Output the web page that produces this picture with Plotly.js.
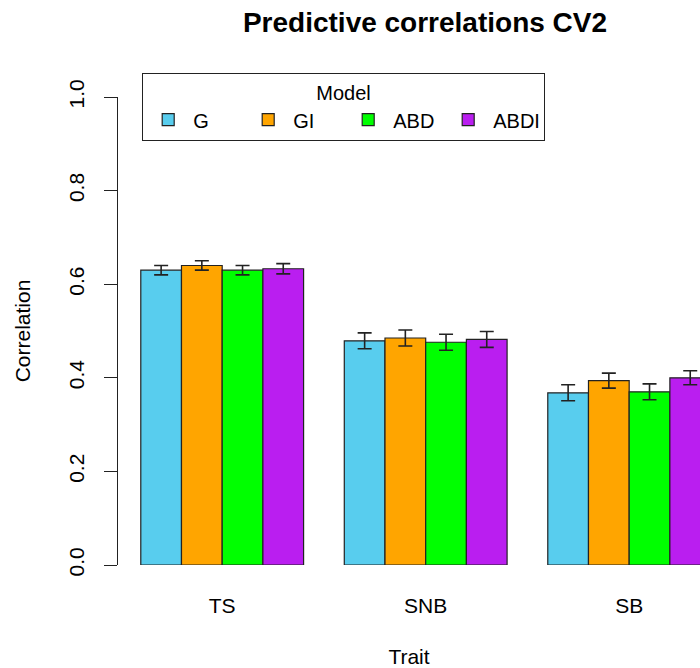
<!DOCTYPE html>
<html>
<head>
<meta charset="utf-8">
<script src="https://cdn.plot.ly/plotly-3.0.1.min.js"></script>
<style>
html,body{margin:0;padding:0;background:#fff;overflow:hidden;}
#chart{width:700px;height:668px;}
</style>
</head>
<body>
<div id="chart"></div>
<script>
const traits = ["TS", "SNB", "SB"];
const models = ["G", "GI", "ABD", "ABDI"];
const colors = ["#58CDEE", "#FFA500", "#00FF00", "#BA1EF0"];
const valG    = [0.630, 0.479, 0.368];
const valGI   = [0.640, 0.485, 0.394];
const valABD  = [0.630, 0.476, 0.370];
const valABDI = [0.633, 0.482, 0.400];
const errG    = [0.010, 0.017, 0.017];
const errGI   = [0.010, 0.017, 0.016];
const errABD  = [0.010, 0.017, 0.017];
const errABDI = [0.011, 0.017, 0.015];
const yTicks = [0, 0.2, 0.4, 0.6, 0.8, 1.0];
const yTickText = ["0.0", "0.2", "0.4", "0.6", "0.8", "1.0"];

const values = [valG, valGI, valABD, valABDI];
const errors = [errG, errGI, errABD, errABDI];
const FONT = "Liberation Sans, Arial, sans-serif";

const data = models.map((m, i) => ({
  type: "bar",
  name: m,
  x: traits,
  y: values[i],
  marker: {color: colors[i], line: {color: "#222", width: 1.2}},
  error_y: {type: "data", array: errors[i], visible: true, color: "#222", thickness: 1.6, width: 7},
  hoverinfo: "x+y+name"
}));

const layout = {
  width: 700,
  height: 668,
  paper_bgcolor: "#fff",
  plot_bgcolor: "#fff",
  margin: {l: 118, r: 0, t: 97, b: 103, pad: 0},
  barmode: "group",
  bargap: 0.2,
  bargroupgap: 0,
  font: {family: FONT, color: "#000", size: 21},
  title: {
    text: "<b>Predictive correlations CV2</b>",
    font: {family: FONT, size: 28, color: "#000"},
    xref: "container", yref: "container",
    x: 425/700, xanchor: "center",
    y: 1 - 22/668, yanchor: "middle"
  },
  xaxis: {
    range: [-0.512, 2.348],
    showline: false, showgrid: false, zeroline: false,
    ticks: "", ticklabelstandoff: 26,
    tickfont: {size: 21, family: FONT, color: "#000"},
    title: {text: "Trait", font: {size: 21, family: FONT, color: "#000"}, standoff: 34},
    automargin: false, fixedrange: true
  },
  yaxis: {
    range: [0, 1],
    tickvals: yTicks, ticktext: yTickText,
    tickangle: -90,
    showline: true, linecolor: "#222", linewidth: 1.2,
    ticks: "outside", ticklen: 13, tickwidth: 1.2, tickcolor: "#222",
    ticklabelstandoff: 12,
    showgrid: false, zeroline: false,
    tickfont: {size: 21, family: FONT, color: "#000"},
    title: {text: "Correlation", font: {size: 21, family: FONT, color: "#000"}, standoff: 28},
    automargin: false, fixedrange: true
  },
  showlegend: true,
  legend: {
    orientation: "h",
    x: (142 - 118) / 582, xanchor: "left",
    y: (565 - 73) / 468, yanchor: "top",
    itemwidth: 40,
    entrywidth: 45, entrywidthmode: "pixels",
    bordercolor: "#222", borderwidth: 1.2,
    bgcolor: "#fff",
    font: {size: 20, family: FONT, color: "#000"},
    title: {text: "Model", side: "top center", font: {size: 20, family: FONT, color: "#000"}},
    traceorder: "normal"
  }
};

Plotly.newPlot("chart", data, layout, {displayModeBar: false, staticPlot: false});
</script>
</body>
</html>
